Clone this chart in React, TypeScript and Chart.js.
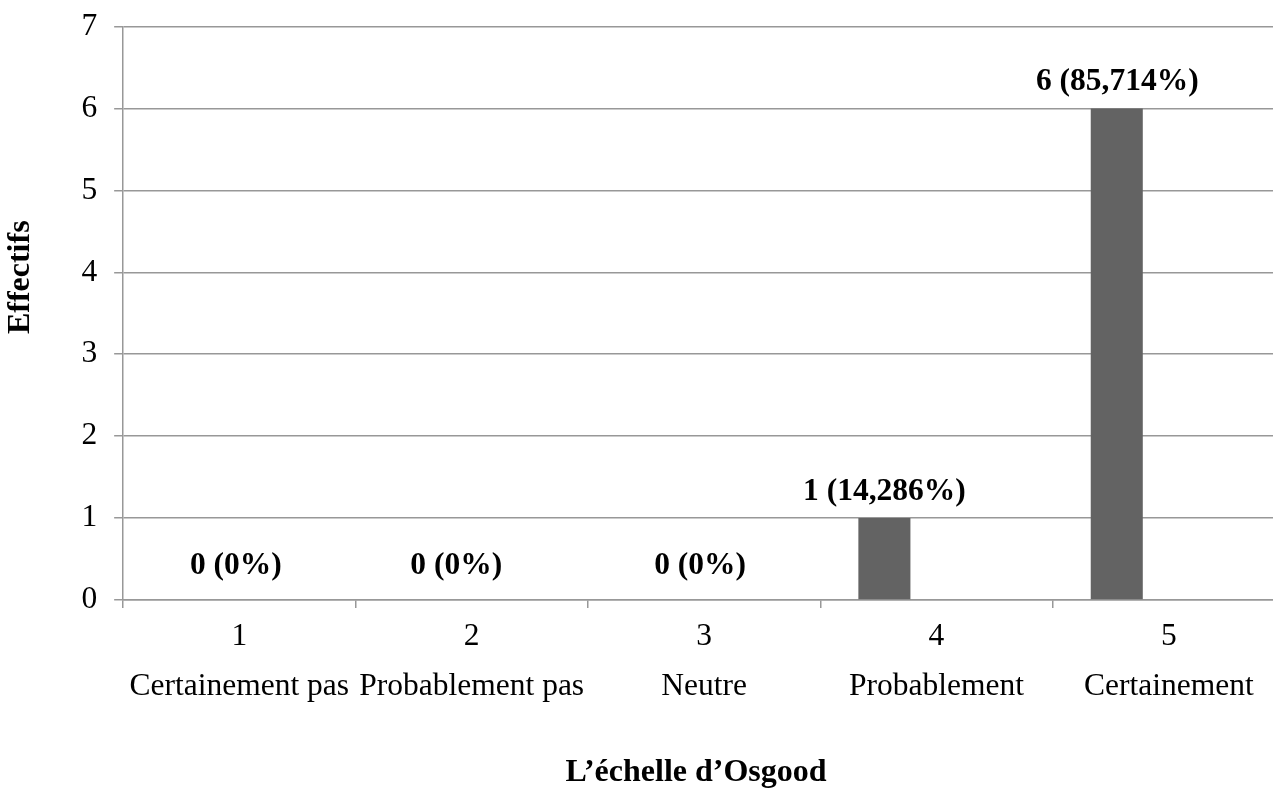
import React, { useEffect, useRef } from "react";
import { Chart, registerables } from "chart.js";

Chart.register(...registerables);

const scaleNumbers = ["1", "2", "3", "4", "5"];
const categories = ["Certainement pas", "Probablement pas", "Neutre", "Probablement", "Certainement"];
const effectifs = [0, 0, 0, 1, 6];
const emptySeries: (number | null)[] = [null, null, null, null, null];
const valueLabels = ["0 (0%)", "0 (0%)", "0 (0%)", "1 (14,286%)", "6 (85,714%)"];
const yMin = 0;
const yMax = 7;
const yStep = 1;
const xTitle = "L\u2019échelle d\u2019Osgood";
const yTitle = "Effectifs";

// annotation nudges (dx from category centre, dy from value) for the value labels
const LABEL_NUDGE: [number, number][] = [
  [-3.5, -18],
  [-15.5, -18],
  [-4, -18],
  [-52, -10],
  [-51.5, -11],
];
// title shifts relative to the plot centre, as in the original
const X_TITLE_DX = -8;
const Y_TITLE_DY = -36;

const FONT = "'Liberation Serif', 'Times New Roman', serif";
const GRID = "#989898";
const HIDDEN = "rgba(0,0,0,0)";

export default function App() {
  const ref = useRef<HTMLCanvasElement>(null);
  useEffect(() => {
    if (!ref.current) return;
    const labelPlugin = {
      id: "valueLabels",
      afterDatasetsDraw(chart: any) {
        const ctx = chart.ctx;
        const xs = chart.scales.x;
        const ys = chart.scales.y;
        const area = chart.chartArea;
        ctx.save();
        ctx.font = `bold 31.5px ${FONT}`;
        ctx.fillStyle = "#000";
        ctx.textAlign = "center";
        ctx.textBaseline = "bottom";
        valueLabels.forEach((t, i) => {
          const [dx, dy] = LABEL_NUDGE[i];
          ctx.fillText(t, xs.getPixelForValue(i) + dx, ys.getPixelForValue(effectifs[i]) + dy);
        });
        // axis titles
        ctx.font = `bold 32px ${FONT}`;
        ctx.textBaseline = "middle";
        ctx.fillText(xTitle, (area.left + area.right) / 2 + X_TITLE_DX, chart.height - 16);
        ctx.translate(21, (area.top + area.bottom) / 2 + Y_TITLE_DY);
        ctx.rotate(-Math.PI / 2);
        ctx.fillText(yTitle, 0, 0);
        ctx.restore();
      },
    };
    const chart = new Chart(ref.current, {
      type: "bar",
      data: {
        labels: scaleNumbers.map((n, i) => [n, categories[i]]),
        datasets: [
          { label: "Effectifs", data: effectifs, backgroundColor: "#636363", borderWidth: 0 },
          { label: "s2", data: emptySeries, backgroundColor: "#999", borderWidth: 0 },
          { label: "s3", data: emptySeries, backgroundColor: "#ccc", borderWidth: 0 },
        ],
      },
      options: {
        responsive: false,
        animation: false,
        devicePixelRatio: 1,
        layout: { padding: { top: 25, right: 0, left: 0, bottom: 0 } },
        plugins: { legend: { display: false }, tooltip: { enabled: false } },
        datasets: { bar: { barPercentage: 1, categoryPercentage: 0.672 } },
        scales: {
          x: {
            offset: true,
            grid: {
              display: true,
              drawOnChartArea: false,
              drawTicks: true,
              tickLength: 8,
              color: GRID,
              lineWidth: 1.5,
              offset: true,
            },
            border: { display: true, color: GRID, width: 1.5 },
            ticks: {
              color: "#000",
              padding: 4,
              maxRotation: 0,
              autoSkip: false,
              font: { family: FONT, size: 31.5, lineHeight: 1.59 },
            },
            title: {
              display: true,
              text: xTitle,
              color: HIDDEN,
              font: { family: FONT, size: 32, weight: "bold", lineHeight: 1.0 },
              padding: { top: 38.8, bottom: 2 },
            },
          },
          y: {
            min: yMin,
            max: yMax,
            grid: { color: GRID, lineWidth: 1.5, tickLength: 9 },
            border: { display: true, color: GRID, width: 1.5 },
            ticks: {
              stepSize: yStep,
              color: "#000",
              padding: 17,
              font: { family: FONT, size: 31.5, lineHeight: 0.6 },
            },
            title: {
              display: true,
              text: yTitle,
              color: HIDDEN,
              font: { family: FONT, size: 32, weight: "bold", lineHeight: 1.2 },
              padding: { top: 2, bottom: 24 },
            },
          },
        },
      },
      plugins: [labelPlugin],
    });
    return () => chart.destroy();
  }, []);
  return (
    <div
      style={{
        position: "absolute",
        left: 0,
        top: 0,
        width: 1273,
        height: 789,
        overflow: "hidden",
        background: "#fff",
      }}
    >
      <canvas ref={ref} width={1285} height={789} style={{ display: "block" }} />
    </div>
  );
}
